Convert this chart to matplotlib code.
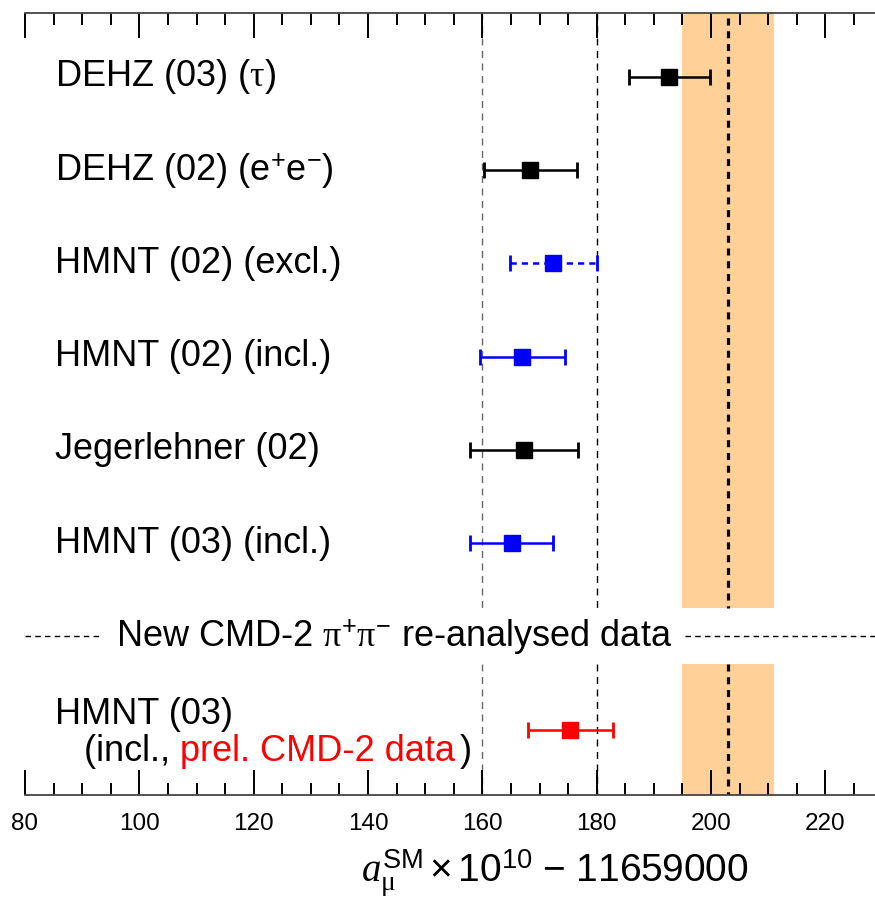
import matplotlib
matplotlib.use("Agg")
import matplotlib.pyplot as plt
from matplotlib.ticker import MultipleLocator
import matplotlib.transforms as mtrans

plt.rcParams['font.family'] = ['Liberation Sans', 'DejaVu Sans']
plt.rcParams['mathtext.fontset'] = 'custom'
plt.rcParams['mathtext.rm'] = 'Liberation Sans'
plt.rcParams['mathtext.it'] = 'Liberation Serif:italic'
plt.rcParams['mathtext.sf'] = 'Liberation Serif'

# ---- data ----
labels = [r'DEHZ (03) ($\mathsf{\tau}$)',
          r'DEHZ (02) (e$^{+}$e$^{-}$)',
          'HMNT (02) (excl.)',
          'HMNT (02) (incl.)',
          'Jegerlehner (02)',
          'HMNT (03) (incl.)']
values = [192.7, 168.4, 172.4, 167.0, 167.3, 165.1]
errors = [7.1, 8.1, 7.6, 7.4, 9.5, 7.3]
colors = ['black', 'black', 'blue', 'blue', 'black', 'blue']
styles = ['-', '-', '--', '-', '-', '-']

new_value = 175.4
new_error = 7.4

exp_center = 203.0
exp_low = 195.0
exp_high = 211.0
ref_lines = [160, 180]

rows = list(range(1, len(labels) + 1))
sep_row = 7
new_row = 8

FS = 26

fig = plt.figure(figsize=(8.75, 9.0), dpi=100)
W, H = 875, 900
ax = fig.add_axes([25 / W, 105 / H, 150 * 5.717 / W, 782 / H])
ax.set_xlim(80, 230)
ax.set_ylim(8.70, 0.314)
trans = mtrans.blended_transform_factory(fig.transFigure, ax.transData)

gap = 0.30
for y0, y1 in [(0.314, sep_row - gap), (sep_row + gap, 8.70)]:
    ax.fill_between([exp_low, exp_high], y0, y1, color='#ffd199', lw=0, zorder=0)
    ax.plot([exp_center, exp_center], [y0 + 0.05 if y0 < 1 else y0, y1], color='black',
            lw=2.3, ls=(0, (2.2, 1.8)), zorder=2)
    for xv, c in zip(ref_lines, ['#666666', 'black']):
        ax.plot([xv, xv], [y0, y1], color=c, lw=1.0, ls=(0, (5, 4)), zorder=1)

for r, lab, v, e, c, s in zip(rows, labels, values, errors, colors, styles):
    _, caps, bars = ax.errorbar(v, r, xerr=e, fmt='s', color=c, ms=11, lw=1.8,
                                capsize=6, capthick=2, zorder=3)
    for b in bars:
        b.set_linestyle(s if s == '-' else (0, (2.5, 2)))
    ax.text(55 / W, r, lab, transform=trans, fontsize=FS, va='center', ha='left')

ax.errorbar(new_value, new_row, xerr=new_error, fmt='s', color='red', ms=11, lw=1.8,
            capsize=6, capthick=2, zorder=3)

ax.text(55 / W, new_row - 0.16, 'HMNT (03)', transform=trans, fontsize=FS,
        va='center', ha='left')

fig.canvas.draw()
renderer = fig.canvas.get_renderer()
parts = [('(incl., ', 'black', 0), ('prel. CMD-2 data', 'red', 5), (')', 'black', 0)]
xpos = 84
for txt, col, extra in parts:
    t = ax.text(xpos / W, new_row + 0.23, txt, transform=trans, fontsize=FS,
                color=col, va='center', ha='left')
    bb = t.get_window_extent(renderer=renderer)
    xpos += bb.width + extra

ax.text(0.5 * (113 + 675) / W, sep_row,
        r'New CMD-2 $\mathsf{\pi}^{+}\mathsf{\pi}^{-}$ re-analysed data',
        transform=trans, fontsize=FS, va='center', ha='center')
ax.plot([80, 93.5], [sep_row, sep_row], color='black', lw=1.0, ls=(0, (4, 3)))
ax.plot([195.5, 230], [sep_row, sep_row], color='black', lw=1.0, ls=(0, (4, 3)))

for s in ['left', 'right']:
    ax.spines[s].set_visible(False)
for s in ['top', 'bottom']:
    ax.spines[s].set_color('#444444')
    ax.spines[s].set_linewidth(1.3)
ax.set_yticks([])
ax.xaxis.set_major_locator(MultipleLocator(20))
ax.xaxis.set_minor_locator(MultipleLocator(5))
ax.tick_params(axis='x', which='both', direction='in', top=True, bottom=True,
               labelsize=17.5, pad=13, width=1.4)
ax.tick_params(axis='x', which='major', length=18)
ax.tick_params(axis='x', which='minor', length=8.5)

fig.text(555 / W, 1 - 873 / H,
         r'$\mathit{a}_{\mathsf{\mu}}^{\mathrm{SM}}\times\mathrm{10}^{\mathrm{10}}\,-\,\mathrm{11659000}$',
         fontsize=28, ha='center', va='center')

fig.savefig('out.png', dpi=100)
